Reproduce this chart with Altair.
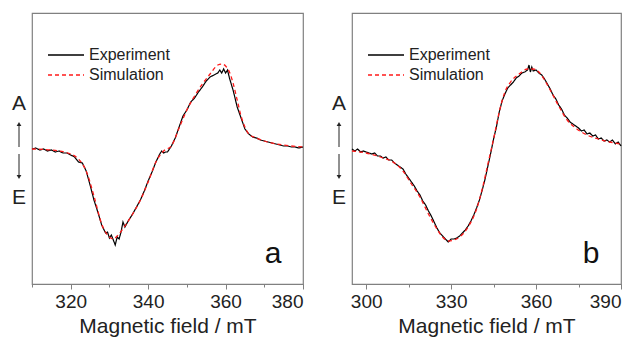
import altair as alt
import pandas as pd

# ---------------- Panel a ----------------
a_exp_x = [310, 311, 312, 313, 314, 315, 316, 317, 318, 319, 320, 321, 322, 323, 324, 325, 326, 327, 328, 328.5,
           329, 329.5, 330, 330.5, 331, 331.5, 332, 332.5, 333, 333.5, 334, 335, 336, 337, 338, 339, 340, 341, 342,
           343, 343.5, 344, 344.5, 345, 346, 347, 348, 349, 350, 351, 352, 353, 354, 355, 356, 357, 358, 358.5,
           359, 359.5, 360, 360.5, 361, 362, 363, 364, 365, 366, 367, 368, 369, 370, 371, 372, 373, 374, 375,
           376, 377, 378, 379, 380]
a_exp_y = [135, 136, 134, 135, 133, 134, 132, 133, 131, 131, 129, 127, 122, 121, 113, 99, 84, 72, 59, 55,
           51, 52, 46, 49, 44, 39, 47, 45, 52, 62, 57, 64, 70, 77, 84, 93, 103, 112, 122,
           130, 133, 131, 132, 132, 138, 146, 157, 168, 174, 182, 186, 192, 197, 203, 207, 209, 211, 214,
           211, 215, 211, 214, 206, 193, 177, 166, 155, 150, 147, 146, 144, 143, 142, 141, 140, 139, 138,
           138, 137, 137, 136, 137]
a_sim_x = [310, 315, 320, 322, 324, 326, 328, 330, 331, 332, 334, 336, 338, 340, 342, 344, 346, 348, 350, 352,
           354, 356, 358, 359, 360, 361, 362, 363, 364, 365, 366, 368, 370, 375, 380]
a_sim_y = [135, 134, 130, 125, 113, 88, 60, 47, 45, 48, 58, 70, 84, 102, 122, 133, 138, 156, 174, 188,
           200, 210, 219, 220, 218, 212, 200, 184, 168, 157, 150, 146, 143, 139, 137]

# ---------------- Panel b ----------------
b_exp_x = [295, 296, 297, 298, 299, 300, 301, 302, 303, 304, 305, 306, 307, 308, 309, 310, 311, 312, 313, 314,
           315, 316, 317, 318, 319, 320, 321, 322, 323, 324, 325, 326, 327, 328, 329, 330, 331, 332, 333, 334,
           335, 336, 337, 338, 339, 340, 341, 342, 343, 344, 345, 346, 347, 348, 349, 350, 351, 352, 353, 354,
           355, 356, 357, 357.5, 358, 358.5, 359, 360, 361, 362, 363, 364, 365, 366, 367, 368, 369, 370, 371,
           372, 373, 374, 375, 376, 377, 378, 379, 380, 381, 382, 383, 384, 385, 386, 387, 388, 389, 390]
b_exp_y = [135, 133, 135, 132, 133, 132, 131, 130, 131, 128, 128, 126, 127, 124, 124, 121, 119, 117, 115, 110,
           106, 102, 98, 93, 89, 83, 79, 73, 68, 62, 56, 51, 48, 45, 42, 45, 45, 46, 48, 51,
           54, 58, 63, 69, 76, 84, 94, 105, 118, 131, 145, 157, 172, 183, 190, 196, 199, 202, 206, 208,
           211, 212, 214, 219, 212, 217, 213, 214, 211, 209, 205, 200, 195, 189, 185, 179, 175, 169, 166,
           162, 160, 158, 156, 153, 154, 150, 151, 148, 149, 145, 146, 143, 144, 142, 144, 140, 142, 138]
b_sim_x = [295, 300, 305, 310, 313, 316, 319, 322, 325, 327, 329, 331, 333, 336, 339, 341, 343, 345, 347, 349,
           351, 354, 357, 359, 361, 363, 365, 368, 371, 374, 378, 382, 386, 390]
b_sim_y = [133, 131, 127, 121, 113, 100, 87, 70, 55, 47, 43, 44, 47, 57, 75, 95, 120, 145, 172, 192,
           202, 210, 215, 215, 212, 204, 194, 178, 164, 156, 149, 145, 142, 140]

series_names = ["Experiment", "Simulation"]
series_colors = ["#000000", "#ff1a1a"]
series_dash = [[1, 0], [4, 3]]

FONT = "Liberation Sans"
GRAY = "#808080"
INK = "#222222"


def panel(ex, ey, sx, sy, xmin, xmax, ticks, step, letter, width, height):
    dexp = pd.DataFrame({"B": ex, "I": ey, "s": series_names[0]})
    dsim = pd.DataFrame({"B": sx, "I": sy, "s": series_names[1]})
    xscale = alt.Scale(domain=[xmin, xmax], nice=False, zero=False)
    yscale = alt.Scale(domain=[0, 271], nice=False, zero=False)
    xaxis = alt.Axis(
        title="Magnetic field / mT",
        values=ticks,
        labelExpr=f"datum.value % {step} === 0 ? datum.label : ''",
        tickSize={"condition": {"test": f"datum.value % {step} === 0", "value": 5}, "value": 3},
        grid=False,
        labelFontSize=19, titleFontSize=21, labelFont=FONT, titleFont=FONT,
        labelColor=INK, titleColor=INK, titleFontWeight="normal",
        labelPadding=3, titlePadding=4, domainColor=GRAY, tickColor=GRAY,
    )
    legend = alt.Legend(
        title=None, orient="none", legendX=15, legendY=34, symbolType="stroke",
        symbolSize=1296, symbolStrokeWidth=1.3, labelFontSize=16, labelFont=FONT,
        labelColor=INK, labelOffset=4, rowPadding=4, padding=0, clipHeight=16,
    )
    color = alt.Color("s:N", scale=alt.Scale(domain=series_names, range=series_colors), legend=legend)
    dash = alt.StrokeDash("s:N", scale=alt.Scale(domain=series_names, range=series_dash), legend=legend)

    exp = alt.Chart(dexp).mark_line(strokeWidth=1.2).encode(
        x=alt.X("B:Q", scale=xscale, axis=xaxis),
        y=alt.Y("I:Q", scale=yscale, axis=None),
        color=color, strokeDash=dash,
    )
    sim = alt.Chart(dsim).mark_line(strokeWidth=1.3, interpolate="monotone").encode(
        x=alt.X("B:Q", scale=xscale, axis=xaxis),
        y=alt.Y("I:Q", scale=yscale, axis=None),
        color=color, strokeDash=dash,
    )
    ann = pd.DataFrame({"t": ["A"]})
    txtA = alt.Chart(ann).mark_text(font=FONT, fontSize=21, color=INK).encode(
        x=alt.value(-13), y=alt.value(91), text=alt.value("A"))
    txtE = alt.Chart(ann).mark_text(font=FONT, fontSize=21, color=INK).encode(
        x=alt.value(-13), y=alt.value(185), text=alt.value("E"))
    up = alt.Chart(ann).mark_rule(color=INK, strokeWidth=1).encode(
        x=alt.value(-13), y=alt.value(111), y2=alt.value(134))
    down = alt.Chart(ann).mark_rule(color=INK, strokeWidth=1).encode(
        x=alt.value(-13), y=alt.value(141), y2=alt.value(164))
    uph = alt.Chart(ann).mark_point(shape="triangle-up", filled=True, color=INK, size=22, opacity=1).encode(
        x=alt.value(-13), y=alt.value(111))
    downh = alt.Chart(ann).mark_point(shape="triangle-down", filled=True, color=INK, size=22, opacity=1).encode(
        x=alt.value(-13), y=alt.value(164))
    lab = alt.Chart(ann).mark_text(font=FONT, fontSize=30, color="#111111").encode(
        x=alt.value(width - 30), y=alt.value(241), text=alt.value(letter))
    return alt.layer(exp, sim, txtA, txtE, up, down, uph, downh, lab).properties(width=width, height=height)


pa = panel(a_exp_x, a_exp_y, a_sim_x, a_sim_y, 310, 380, [310, 320, 330, 340, 350, 360, 370, 380], 20, "a", 271, 271)
pb = panel(b_exp_x, b_exp_y, b_sim_x, b_sim_y, 295, 390, [300, 315, 330, 345, 360, 375, 390], 30, "b", 269, 271)

chart = alt.hconcat(pa, pb, spacing=49, bounds="flush").resolve_scale(
    x="independent", color="independent", strokeDash="independent"
).properties(
    padding={"left": 3, "top": 4, "right": 5, "bottom": 5}
).configure_view(
    stroke=GRAY, strokeWidth=1.2
)

chart.save("out.html", embed_options={"renderer": "svg", "actions": False})
